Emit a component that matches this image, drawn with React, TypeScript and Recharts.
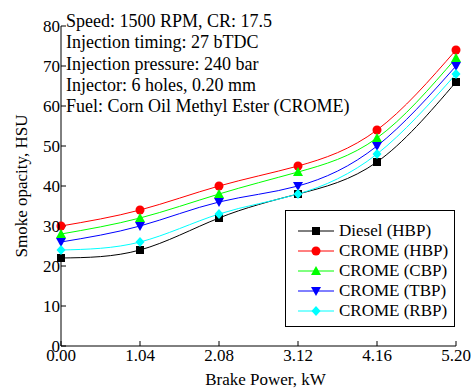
import React from 'react';
import { LineChart, Line, XAxis, YAxis, Legend, Label } from 'recharts';

const power = [0, 1.04, 2.08, 3.12, 4.16, 5.2];
const dieselHBP = [22, 24, 32, 38, 46, 66];
const cromeHBP = [30, 34, 40, 45, 54, 74];
const cromeCBP = [28, 32, 38, 43.5, 52, 72];
const cromeTBP = [26, 30, 36, 40, 50, 70];
const cromeRBP = [24, 26, 33, 38, 48, 68];

const xTicks = [0, 1.04, 2.08, 3.12, 4.16, 5.2];
const xMinor = [0.52, 1.56, 2.6, 3.64, 4.68];
const yTicks = [0, 10, 20, 30, 40, 50, 60, 70, 80];
const yMinor = [5, 15, 25, 35, 45, 55, 65, 75];

const notes = [
  'Speed: 1500 RPM, CR: 17.5',
  'Injection timing: 27 bTDC',
  'Injection pressure: 240 bar',
  'Injector: 6 holes, 0.20 mm',
  'Fuel: Corn Oil Methyl Ester (CROME)',
];

const data = power.map((p, i) => ({
  p,
  diesel: dieselHBP[i],
  hbp: cromeHBP[i],
  cbp: cromeCBP[i],
  tbp: cromeTBP[i],
  rbp: cromeRBP[i],
}));

type Shape = 'square' | 'circle' | 'up' | 'down' | 'diamond';

const series: { key: string; name: string; color: string; shape: Shape }[] = [
  { key: 'diesel', name: 'Diesel (HBP)', color: '#000000', shape: 'square' },
  { key: 'hbp', name: 'CROME (HBP)', color: '#ff0000', shape: 'circle' },
  { key: 'cbp', name: 'CROME (CBP)', color: '#00ff00', shape: 'up' },
  { key: 'tbp', name: 'CROME (TBP)', color: '#0000ff', shape: 'down' },
  { key: 'rbp', name: 'CROME (RBP)', color: '#00ffff', shape: 'diamond' },
];

const FONT = "'Liberation Serif', 'DejaVu Serif', 'Times New Roman', Times, serif";

function marker(shape: Shape, cx: number, cy: number, color: string, key?: string) {
  switch (shape) {
    case 'square':
      return <rect key={key} x={cx - 4} y={cy - 4} width={8} height={8} fill={color} />;
    case 'circle':
      return <circle key={key} cx={cx} cy={cy} r={4.5} fill={color} />;
    case 'up':
      return <polygon key={key} points={`${cx},${cy - 5} ${cx - 5},${cy + 4} ${cx + 5},${cy + 4}`} fill={color} />;
    case 'down':
      return <polygon key={key} points={`${cx},${cy + 5} ${cx - 5},${cy - 4} ${cx + 5},${cy - 4}`} fill={color} />;
    default:
      return <polygon key={key} points={`${cx},${cy - 5} ${cx + 4.5},${cy} ${cx},${cy + 5} ${cx - 4.5},${cy}`} fill={color} />;
  }
}

function LegendBox() {
  return (
    <div style={{ width: 168, height: 105, border: '1px solid #000', background: '#fff', boxSizing: 'content-box', paddingTop: 10, fontFamily: FONT, fontSize: 17 }}>
      {series.map((s) => (
        <div key={s.key} style={{ height: 20, display: 'flex', alignItems: 'center' }}>
          <svg width={53} height={20}>
            <line x1={12} x2={48} y1={10} y2={10} stroke={s.color} strokeWidth={1} />
            {marker(s.shape, 30, 10, s.color)}
          </svg>
          <span style={{ color: '#000', lineHeight: '20px' }}>{s.name}</span>
        </div>
      ))}
    </div>
  );
}

export default function App() {
  const tickStyle = { fontFamily: FONT, fontSize: 17, fill: '#000' };
  return (
    <div style={{ position: 'absolute', left: 0, top: 0, width: 474, height: 392, background: '#fff' }}>
      <LineChart width={474} height={392} data={data} margin={{ top: 26, right: 18, left: 0, bottom: 0 }}>
        <XAxis
          xAxisId="minor"
          dataKey="p"
          type="number"
          domain={[0, 5.2]}
          ticks={xMinor}
          tick={false}
          axisLine={false}
          tickLine={{ stroke: '#000' }}
          tickSize={-3}
          height={0}
        />
        <XAxis
          dataKey="p"
          type="number"
          domain={[0, 5.2]}
          ticks={xTicks}
          tickFormatter={(v: number) => v.toFixed(2)}
          tick={tickStyle}
          axisLine={{ stroke: '#000' }}
          tickLine={{ stroke: '#000' }}
          tickSize={-5}
          tickMargin={8}
          height={46}
          interval={0}
        >
          <Label value="Brake Power, kW" position="center" dx={7} dy={10} style={{ fontFamily: FONT, fontSize: 17, fill: '#000' }} />
        </XAxis>
        <YAxis
          yAxisId="minor"
          type="number"
          domain={[0, 80]}
          ticks={yMinor}
          tick={false}
          axisLine={false}
          tickLine={{ stroke: '#000' }}
          tickSize={-3}
          width={0}
        />
        <YAxis
          type="number"
          domain={[0, 80]}
          ticks={yTicks}
          tick={tickStyle}
          axisLine={{ stroke: '#000' }}
          tickLine={{ stroke: '#000' }}
          tickSize={-5}
          tickMargin={6}
          width={61}
          interval={0}
        >
          <Label value="Smoke opacity, HSU" angle={-90} position="center" dx={-10} style={{ fontFamily: FONT, fontSize: 17, fill: '#000', textAnchor: 'middle' }} />
        </YAxis>
        {series.map((s) => (
          <Line
            key={s.key}
            dataKey={s.key}
            name={s.name}
            type="natural"
            stroke={s.color}
            strokeWidth={1}
            isAnimationActive={false}
            dot={(props: any) => marker(s.shape, props.cx, props.cy, s.color, `${s.key}-${props.index}`)}
            activeDot={false}
          />
        ))}
        <Legend
          layout="vertical"
          align="center"
          verticalAlign="middle"
          content={() => <LegendBox />}
          wrapperStyle={{ left: 285, top: 210, width: 170, height: 117 }}
        />
      </LineChart>
      {notes.map((t, i) => (
        <div
          key={i}
          style={{ position: 'absolute', left: 66, top: 11 + i * 21.3, fontFamily: FONT, fontSize: 18, lineHeight: '21px', color: '#000', whiteSpace: 'nowrap' }}
        >
          {t}
        </div>
      ))}
    </div>
  );
}
